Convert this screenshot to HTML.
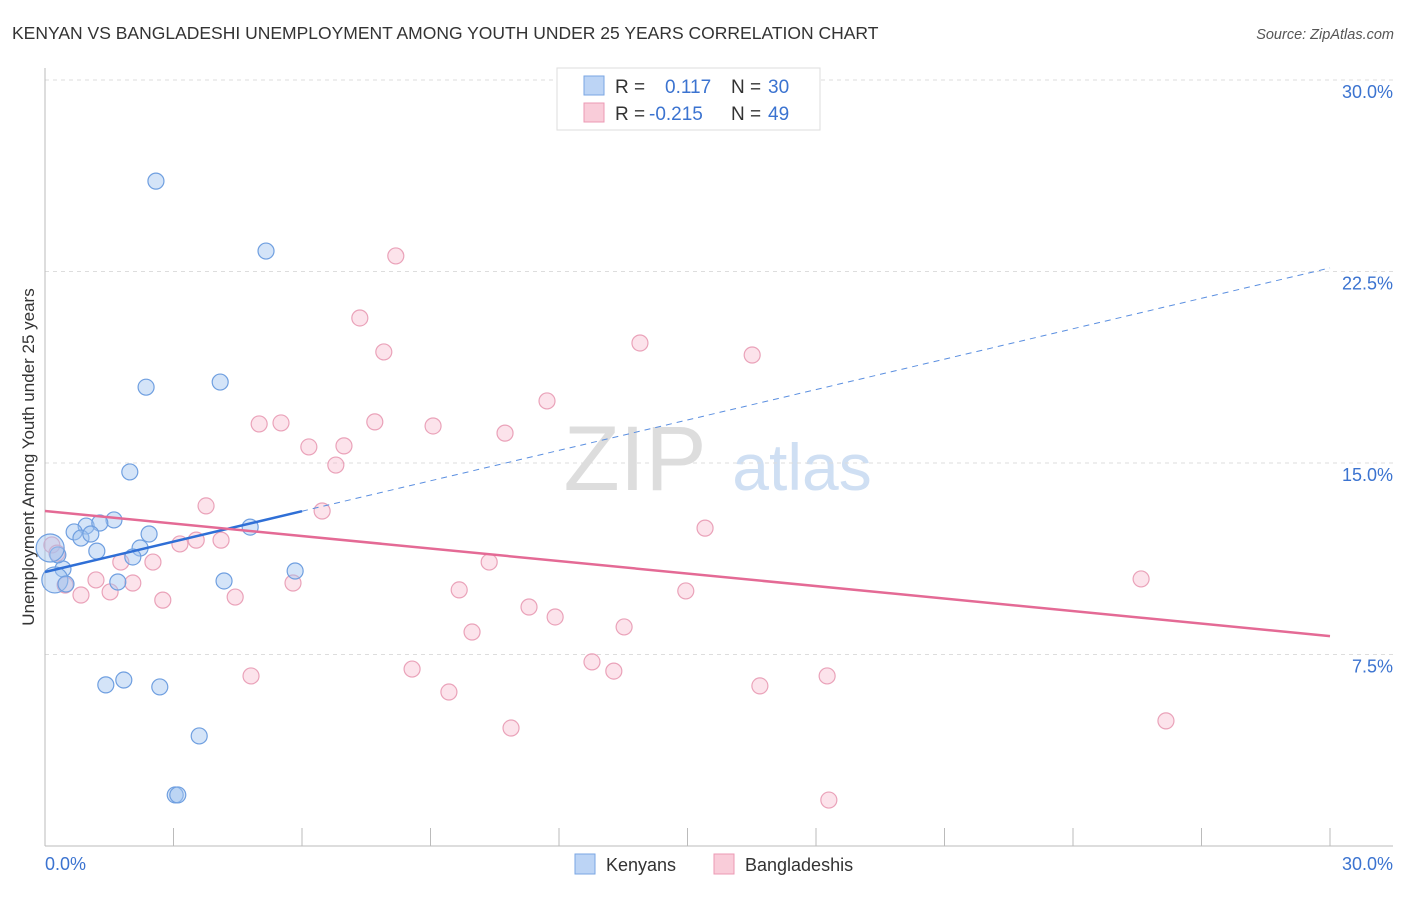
<!DOCTYPE html>
<html><head><meta charset="utf-8"><style>
body{margin:0;background:#fff;font-family:"Liberation Sans",sans-serif;}
svg text{font-family:"Liberation Sans",sans-serif;}
</style></head><body>
<svg id="chart" width="1406" height="892" viewBox="0 0 1406 892" xmlns="http://www.w3.org/2000/svg">
<text x="12" y="39" font-size="17.5" fill="#333">KENYAN VS BANGLADESHI UNEMPLOYMENT AMONG YOUTH UNDER 25 YEARS CORRELATION CHART</text>
<text x="1394" y="39" font-size="14.5" fill="#555" font-style="italic" text-anchor="end">Source: ZipAtlas.com</text>
<g>
<text x="635" y="490" font-size="92" fill="#ddd" text-anchor="middle" font-family="Liberation Serif,serif">ZIP</text>
<text x="802" y="490" font-size="66" fill="#cfdff3" text-anchor="middle">atlas</text>
</g>
<g id="grid"></g>
<g id="axes"></g>
<g id="pts"></g>
<g id="trends"></g>
<text transform="translate(34,457) rotate(-90)" font-size="17" fill="#333" text-anchor="middle">Unemployment Among Youth under 25 years</text>
<g>
<rect x="557" y="68" width="263" height="62" fill="#fff" stroke="#ddd"/>
<rect x="584" y="76" width="20" height="19" fill="#bcd4f5" stroke="#7aa6e3"/>
<rect x="584" y="103" width="20" height="19" fill="#f9ccd9" stroke="#ec9ab4"/>
<text x="615" y="93" font-size="19" fill="#333">R = </text><text x="665" y="93" font-size="19" fill="#3b73d0">0.117</text>
<text x="731" y="93" font-size="19" fill="#333">N = </text><text x="768" y="93" font-size="19" fill="#3b73d0">30</text>
<text x="615" y="120" font-size="19" fill="#333">R = </text><text x="649" y="120" font-size="19" fill="#3b73d0">-0.215</text>
<text x="731" y="120" font-size="19" fill="#333">N = </text><text x="768" y="120" font-size="19" fill="#3b73d0">49</text>
</g>
<g>
<rect x="575" y="854" width="20" height="20" fill="#bcd4f5" stroke="#7aa6e3"/>
<text x="606" y="871" font-size="18" fill="#333">Kenyans</text>
<rect x="714" y="854" width="20" height="20" fill="#f9ccd9" stroke="#ec9ab4"/>
<text x="745" y="871" font-size="18" fill="#333">Bangladeshis</text>
</g>
</svg>
<script>
const yTicks=[7.5,15,22.5,30];
const yTickLabels=["7.5%","15.0%","22.5%","30.0%"];
const xTickLabels=["0.0%","30.0%"];
const kenX=[2.59,5.16,2.36,4.09,1.98,1.61,0.96,1.28,0.68,0.84,1.07,1.21,2.43,2.22,2.05,4.79,0.42,0.30,0.12,0.23,0.49,1.70,4.18,5.84,1.42,1.84,2.68,3.60,3.04,3.10];
const kenY=[26.04,23.30,17.97,18.17,14.65,12.77,12.53,12.65,12.30,12.06,12.22,11.55,12.22,11.67,11.32,12.49,10.85,11.40,11.67,10.42,10.26,10.34,10.38,10.77,6.31,6.50,6.23,4.31,2.00,2.00];
const kenR=[8,8,8,8,8,8,8,8,8,8,8,8,8,8,8,8,8,8,14,13,8,8,8,8,8,8,8,8,8,8];
const banX=[8.19,7.35,7.91,13.89,16.51,11.72,5.00,5.51,7.70,9.06,10.74,6.16,6.98,6.79,3.76,6.47,15.41,3.15,3.53,4.11,0.16,0.28,2.52,1.77,10.37,1.19,2.05,0.47,5.79,1.52,0.84,2.75,4.44,9.67,14.96,25.59,11.30,11.91,9.97,13.52,12.77,13.28,8.57,4.81,9.43,16.69,18.26,10.88,26.17,18.30];
const banY=[23.11,20.68,19.35,19.70,19.23,17.43,16.53,16.57,16.61,16.45,16.17,15.63,15.67,14.92,13.32,13.12,12.45,11.83,11.98,11.98,11.79,11.47,11.12,11.12,11.12,10.42,10.30,10.22,10.30,9.95,9.83,9.63,9.75,10.03,9.99,10.46,9.36,8.97,8.38,8.58,7.21,6.85,6.93,6.66,6.03,6.27,6.66,4.62,4.90,1.80];
const kenTrend=[10.73,22.64];
const banTrend=[13.12,8.22];
const kenSolidEnd=6.0;
const NS="http://www.w3.org/2000/svg";
const X0=45,X1=1330,Y0=846,Y1=80;
const sx=v=>X0+(v/30)*(X1-X0);
const sy=v=>Y0-(v/30)*(Y0-Y1);
function mk(tag,attrs,parent){const e=document.createElementNS(NS,tag);for(const k in attrs)e.setAttribute(k,attrs[k]);parent.appendChild(e);return e;}
const grid=document.getElementById('grid'),axes=document.getElementById('axes'),pts=document.getElementById('pts'),tr=document.getElementById('trends');
yTicks.forEach((t,i)=>{
 const l=mk('line',{x1:X0,x2:1393,y1:sy(t),y2:sy(t),stroke:'#ddd','stroke-dasharray':'4,4'},grid);
 
 
 const tx=mk('text',{x:1393,y:sy(t)+18,'font-size':18,fill:'#3b73d0','text-anchor':'end'},grid);
 tx.textContent=yTickLabels[i];
 
 
});
const ya=mk('line',{x1:X0,x2:X0,y1:68,y2:846,stroke:'#bbb'},axes);


const xa=mk('line',{x1:X0,x2:1393,y1:846,y2:846,stroke:'#bbb'},axes);


for(let i=0;i<=10;i++){
 const t=mk('line',{x1:sx(i*3),x2:sx(i*3),y1:828,y2:846,stroke:'#bbb'},axes);
 
 
}
[[0,'start',45],[30,'end',1393]].forEach((a,i)=>{
 const tx=mk('text',{x:a[2],y:870,'font-size':18,fill:'#3b73d0','text-anchor':a[1]},axes);
 tx.textContent=xTickLabels[i];
 
 
});
banX.forEach((v,i)=>{
 const c=mk('circle',{cx:sx(v),cy:sy(banY[i]),r:8,fill:'rgba(246,176,198,0.35)',stroke:'#eaa2b9','stroke-width':1.2},pts);
 
 
});
kenX.forEach((v,i)=>{
 const c=mk('circle',{cx:sx(v),cy:sy(kenY[i]),r:kenR[i],fill:'rgba(160,195,240,0.45)',stroke:'#6f9fe0','stroke-width':1.2},pts);
 
 
});
const kAt=x=>kenTrend[0]+(kenTrend[1]-kenTrend[0])*x/30;
const k1=mk('line',{x1:sx(0),y1:sy(kAt(0)),x2:sx(kenSolidEnd),y2:sy(kAt(kenSolidEnd)),stroke:'#2f6fd6','stroke-width':2.5},tr);


const k2=mk('line',{x1:sx(kenSolidEnd),y1:sy(kAt(kenSolidEnd)),x2:sx(30),y2:sy(kAt(30)),stroke:'#5b8fe0','stroke-width':1,'stroke-dasharray':'6,5'},tr);


const b1=mk('line',{x1:sx(0),y1:sy(banTrend[0]),x2:sx(30),y2:sy(banTrend[1]),stroke:'#e46a95','stroke-width':2.5},tr);


</script>
</body></html>
